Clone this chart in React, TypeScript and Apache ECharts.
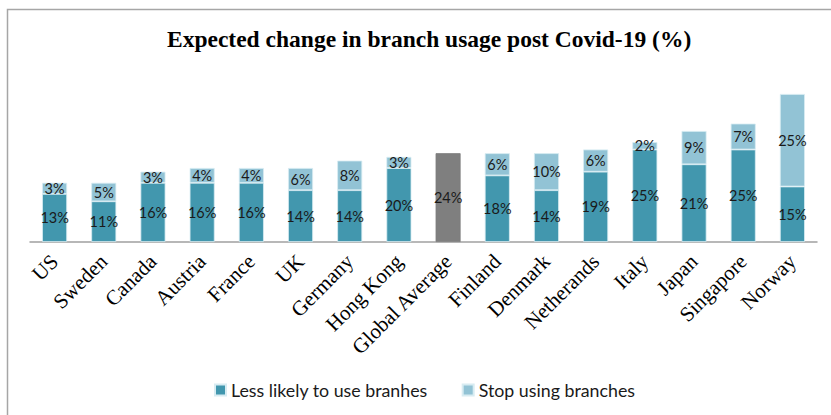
import React, { useEffect, useRef } from "react";
import * as echarts from "echarts";

const categories = [
  "US", "Sweden", "Canada", "Austria", "France", "UK", "Germany", "Hong Kong",
  "Global Average", "Finland", "Denmark", "Netherands", "Italy", "Japan", "Singapore", "Norway",
];
const lessLikely = [13, 11, 16, 16, 16, 14, 14, 20, 24, 18, 14, 19, 25, 21, 25, 15];
const stopUsing: (number | null)[] = [3, 5, 3, 4, 4, 6, 8, 3, null, 6, 10, 6, 2, 9, 7, 25];
const averageIndex = 8;

const DARK = "#4297AE";
const LIGHT = "#92C3D5";
const GREY = "#7F7F7F";

export default function App() {
  const ref = useRef<HTMLDivElement>(null);
  useEffect(() => {
    document.body.style.margin = "0";
    const chart = echarts.init(ref.current!, null, { renderer: "svg" });
    const labelStyle = {
      show: true,
      position: "inside" as const,
      formatter: "{c}%",
      fontFamily: "Lato",
      fontSize: 14.5,
      color: "#1a1a1a",
    };
    chart.setOption({
      animation: false,
      backgroundColor: "#ffffff",
      title: {
        text: "Expected change in branch usage post Covid-19 (%)",
        left: 162,
        top: 22,
        textStyle: {
          fontFamily: "Liberation Serif",
          fontWeight: "bold",
          fontSize: 23.5,
          color: "#000",
        },
      },
      graphic: [
        {
          type: "rect",
          shape: { x: 7.5, y: 9.5, width: 900, height: 500 },
          style: { fill: "none", stroke: "#a6a6a6", lineWidth: 1.5 },
          silent: true,
          z: -1,
        },
      ],
      legend: {
        left: 209,
        top: 376,
        itemWidth: 11,
        itemHeight: 11,
        itemGap: 34,
        icon: "rect",
        textStyle: { fontFamily: "Lato", fontSize: 17.8, color: "#1a1a1a" },
        data: ["Less likely to use branhes", "Stop using branches"],
      },
      grid: { left: 30, right: 14, top: 94, bottom: 173, containLabel: false },
      xAxis: {
        type: "category",
        data: categories,
        axisLine: { show: true, lineStyle: { color: "#a0a0a0", width: 1.5 } },
        axisTick: { show: false },
        axisLabel: {
          interval: 0,
          rotate: 45,
          margin: 16,
          fontFamily: "Liberation Serif",
          fontSize: 21,
          color: "#000",
        },
      },
      yAxis: {
        type: "value",
        min: 0,
        max: 40,
        show: false,
        splitLine: { show: false },
      },
      series: [
        {
          name: "Less likely to use branhes",
          type: "bar",
          stack: "total",
          barWidth: 25,
          itemStyle: { color: DARK, borderColor: "#d8ecf2", borderWidth: 0.8 },
          label: labelStyle,
          data: lessLikely.map((v, i) =>
            i === averageIndex
              ? { value: v, itemStyle: { color: GREY, borderColor: GREY } }
              : v
          ),
        },
        {
          name: "Stop using branches",
          type: "bar",
          stack: "total",
          barWidth: 25,
          itemStyle: { color: LIGHT, borderColor: "#d8ecf2", borderWidth: 0.8 },
          label: labelStyle,
          data: stopUsing.map((v) => (v === null ? "-" : v)),
        },
      ],
    });
    return () => chart.dispose();
  }, []);
  return <div ref={ref} style={{ width: 831, height: 415 }} />;
}
